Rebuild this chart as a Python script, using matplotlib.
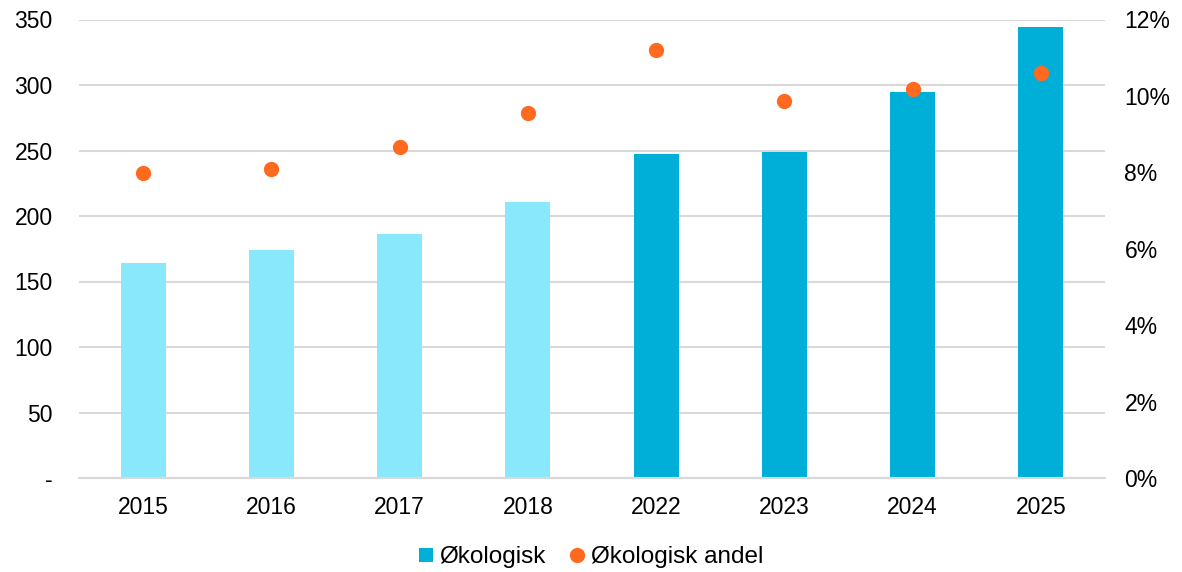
import numpy as np
import matplotlib.pyplot as plt
from matplotlib.lines import Line2D

plt.rcParams['font.family'] = ['Liberation Sans', 'DejaVu Sans']

# data
years = ['2015', '2016', '2017', '2018', '2022', '2023', '2024', '2025']
okologisk = [164, 174, 186, 211, 247, 249, 295, 344]
andel = [7.99, 8.10, 8.67, 9.54, 11.19, 9.88, 10.19, 10.61]  # prosent
projected = [False, False, False, False, True, True, True, True]

light = '#8ae8fc'
dark = '#00afd7'
orange = '#ff6a20'
grid = '#d9d9d9'
fs = 16.5

fig = plt.figure(figsize=(11.82, 5.72), dpi=100)
ax = fig.add_axes([79 / 1182, 1 - 478 / 572, (1105 - 79) / 1182, (478 - 19.5) / 572])
ax2 = ax.twinx()

x = np.arange(len(years))
colors = [dark if p else light for p in projected]
ax.bar(x, okologisk, width=0.35, color=colors, zorder=2)
ax2.plot(x, andel, 'o', color=orange, markersize=11, markeredgewidth=0, zorder=3)

ax.set_xlim(-0.5, len(years) - 0.5)
ax.set_ylim(0, 350)
ax.set_yticks(np.arange(0, 351, 50))
ax.set_yticklabels(['-'] + [str(v) for v in range(50, 351, 50)])
ax2.set_ylim(0, 12)
ax2.set_yticks(np.arange(0, 13, 2))
ax2.set_yticklabels([f'{v}%' for v in range(0, 13, 2)])

ax.set_xticks(x)
ax.set_xticklabels(years)
ax.yaxis.grid(True, color=grid, linewidth=1.5, zorder=0)
ax.set_axisbelow(True)

for a in (ax, ax2):
    for s in a.spines.values():
        s.set_visible(False)
    a.tick_params(length=0, labelsize=fs, colors='black')
ax.tick_params(axis='y', pad=19)
ax.tick_params(axis='x', pad=13)
ax2.tick_params(axis='y', pad=14)
ax.spines['bottom'].set_visible(True)
ax.spines['bottom'].set_color(grid)
ax.spines['bottom'].set_linewidth(1.5)

handles = [
    Line2D([], [], marker='s', linestyle='', color=dark, markersize=9.5,
           markeredgewidth=0, label='Økologisk'),
    Line2D([], [], marker='o', linestyle='', color=orange, markersize=11,
           markeredgewidth=0, label='Økologisk andel'),
]
fig.legend(handles=handles, loc='center', bbox_to_anchor=(0.5, 1 - 557 / 572), ncol=2,
           frameon=False, fontsize=17.5, handlelength=0.6, handletextpad=0.25,
           columnspacing=1.0, borderpad=0)

plt.savefig('out.png', dpi=100)
